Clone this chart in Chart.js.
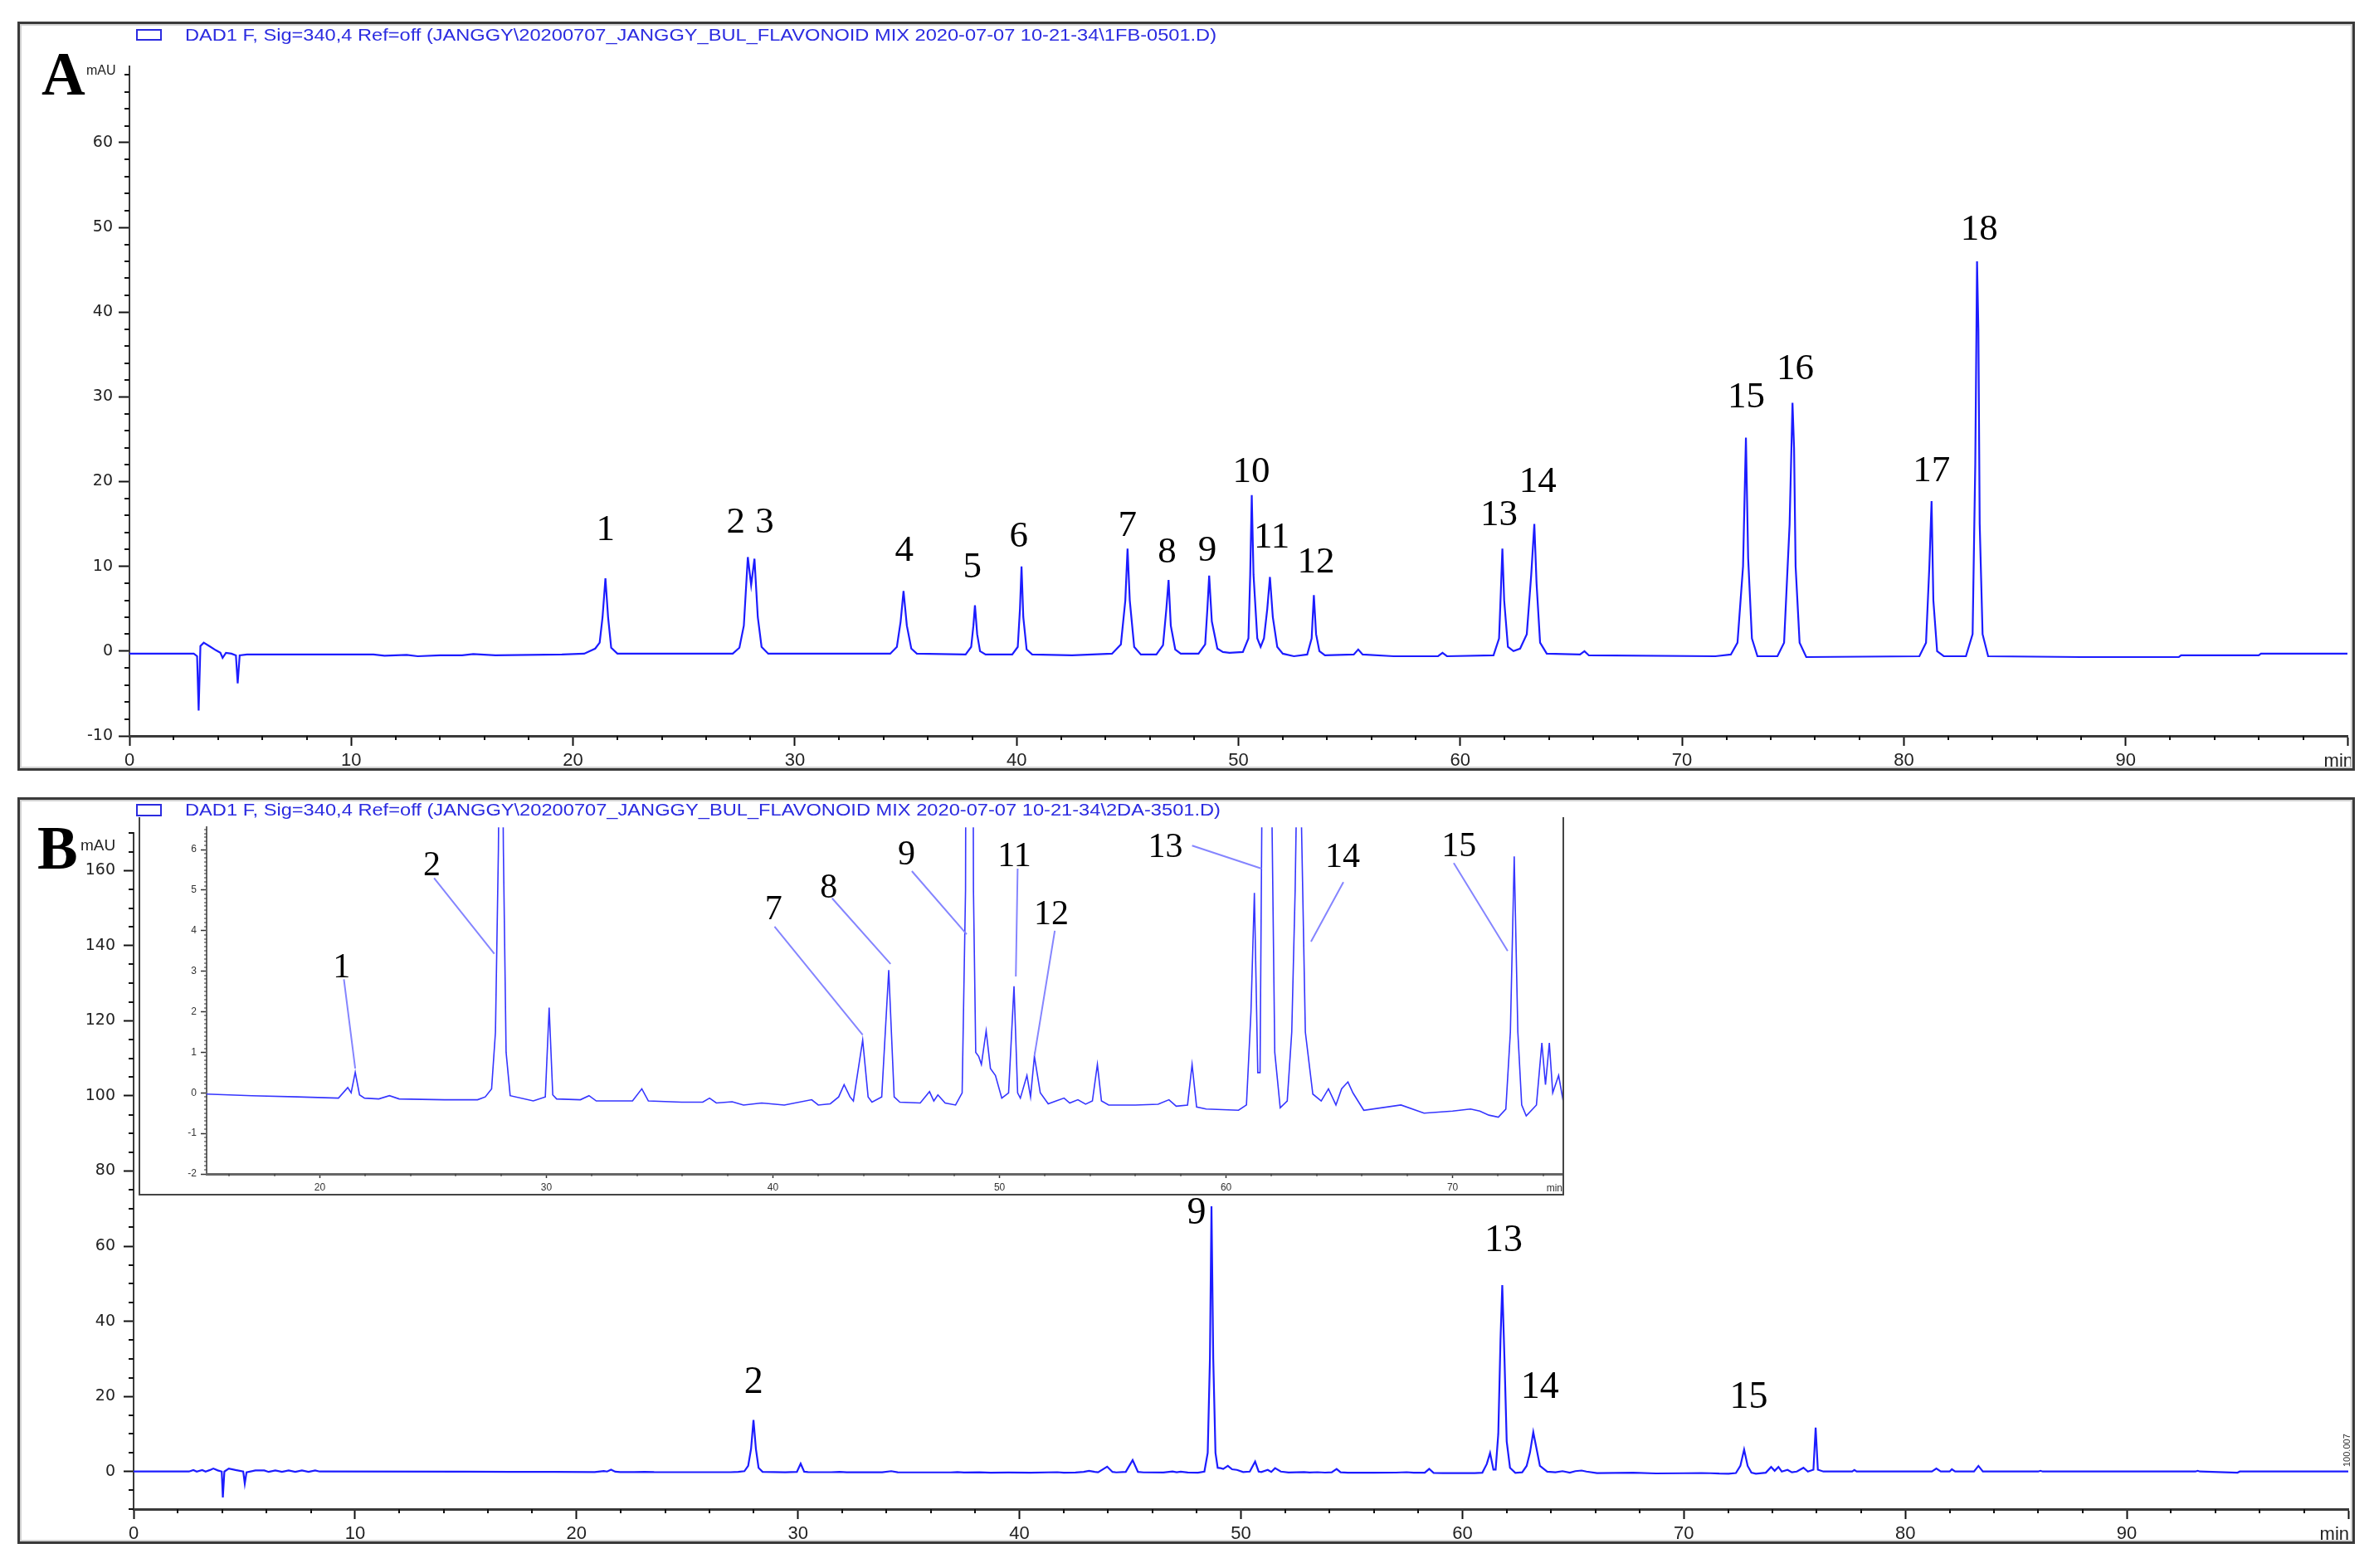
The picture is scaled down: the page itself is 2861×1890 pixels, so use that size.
<!DOCTYPE html>
<html><head><meta charset="utf-8">
<script src="https://cdn.jsdelivr.net/npm/chart.js@4.4.1/dist/chart.umd.min.js"></script>
<style>
html,body{margin:0;padding:0;background:#fff;overflow:hidden;}
#page{position:relative;width:2861px;height:1890px;background:#fff;overflow:hidden;}
canvas{position:absolute;display:block;}
.frame{position:absolute;border:3px solid #3a3a3a;box-shadow:inset 0 0 0 2px #d2d2d2;box-sizing:border-box;pointer-events:none;}
.legend{position:absolute;font-family:'Liberation Sans',Arial,sans-serif;font-size:20px;line-height:20px;color:#2b2be0;white-space:nowrap;transform-origin:0 50%;}
.legbox{position:absolute;border:2px solid #2b2be0;box-sizing:border-box;}
.plet{position:absolute;font-family:'Liberation Serif','Times New Roman',serif;font-weight:bold;font-size:73px;line-height:73px;color:#000;}
.mau{position:absolute;font-family:'Liberation Sans',Arial,sans-serif;color:#222;white-space:nowrap;}
#insetFrame{position:absolute;left:167px;top:985px;width:1718px;height:456px;box-sizing:border-box;border-left:2px solid #444;border-right:2px solid #444;border-bottom:2px solid #444;background:#fff;}
#rt{position:absolute;left:2823px;top:1768px;font-family:'Liberation Sans',Arial,sans-serif;font-size:11px;line-height:11px;color:#333;transform-origin:0 0;transform:rotate(-90deg);white-space:nowrap;}
</style></head>
<body>
<div id="page">
  <canvas id="cA"></canvas>
  <canvas id="cB"></canvas>
  <div id="insetFrame"></div>
  <canvas id="cI"></canvas>
  <div class="frame" style="left:21px;top:26px;width:2817px;height:903px;"></div>
  <div class="frame" style="left:21px;top:961px;width:2817px;height:900px;"></div>
  <div class="legbox" style="left:164px;top:35px;width:31px;height:14px;"></div>
  <div class="legend" id="legA" style="left:223px;top:32px;"></div>
  <div class="legbox" style="left:164px;top:969px;width:31px;height:15px;"></div>
  <div class="legend" id="legB" style="left:223px;top:966px;"></div>
  <div class="plet" style="left:50px;top:53px;">A</div>
  <div class="mau" style="left:104px;top:77px;font-size:16px;line-height:16px;">mAU</div>
  <div class="plet" style="left:45px;top:986px;">B</div>
  <div class="mau" style="left:97px;top:1009px;font-size:19px;line-height:19px;">mAU</div>
  <div id="rt">100.007</div>
</div>
<script>
// ================= DATA =================
const legendTextA = 'DAD1 F, Sig=340,4 Ref=off (JANGGY\\20200707_JANGGY_BUL_FLAVONOID MIX 2020-07-07 10-21-34\\1FB-0501.D)';
const legendTextB = 'DAD1 F, Sig=340,4 Ref=off (JANGGY\\20200707_JANGGY_BUL_FLAVONOID MIX 2020-07-07 10-21-34\\2DA-3501.D)';

// tick label values
const xTicksA = [0,10,20,30,40,50,60,70,80,90,100];
const yTicksA = [-10,0,10,20,30,40,50,60];
const xTicksB = [0,10,20,30,40,50,60,70,80,90,100];
const yTicksB = [0,20,40,60,80,100,120,140,160];
const xTicksInset = [20,30,40,50,60,70];
const yTicksInset = [-2,-1,0,1,2,3,4,5,6];

// chromatogram A: [retention time (min), absorbance (mAU)]
const traceA = [
 [0,-0.3],[2.9,-0.3],[3.05,-0.6],[3.12,-7.0],[3.2,0.6],[3.35,1.0],[3.6,0.6],[3.9,0.1],[4.1,-0.2],[4.2,-0.8],[4.35,-0.2],[4.6,-0.3],[4.8,-0.5],[4.88,-3.8],[4.97,-0.5],[5.3,-0.4],
 [11.0,-0.4],[11.5,-0.55],[12.5,-0.45],[13.0,-0.6],[14.0,-0.5],[15.0,-0.5],[15.5,-0.35],[16.5,-0.5],[19.5,-0.4],
 [20.5,-0.3],[21.0,0.3],[21.2,1.0],[21.33,4.0],[21.46,8.6],[21.58,4.0],[21.72,0.4],[22.0,-0.3],
 [27.2,-0.3],[27.5,0.4],[27.7,3.0],[27.88,11.1],[28.03,7.8],[28.18,10.9],[28.33,4.0],[28.5,0.5],[28.8,-0.3],
 [34.3,-0.3],[34.6,0.5],[34.77,3.5],[34.9,7.1],[35.05,3.0],[35.25,0.3],[35.5,-0.3],
 [37.7,-0.4],[37.95,0.5],[38.05,3.0],[38.12,5.4],[38.22,2.0],[38.35,0.0],[38.6,-0.4],
 [39.8,-0.4],[40.05,0.5],[40.15,5.0],[40.22,10.0],[40.3,4.0],[40.45,0.2],[40.7,-0.4],
 [42.5,-0.5],
 [44.3,-0.3],[44.7,0.8],[44.9,6.0],[45.0,12.1],[45.1,6.0],[45.3,0.5],[45.6,-0.4],
 [46.3,-0.4],[46.6,0.7],[46.75,5.0],[46.85,8.4],[46.95,3.0],[47.15,0.2],[47.4,-0.3],
 [48.2,-0.3],[48.5,0.8],[48.6,5.0],[48.68,8.9],[48.8,3.5],[49.05,0.3],[49.3,-0.1],[49.6,-0.2],
 [50.2,-0.1],[50.45,1.5],[50.53,9.0],[50.6,18.4],[50.68,9.0],[50.85,1.5],[51.0,0.5],
 [51.15,1.5],[51.3,5.0],[51.42,8.75],[51.55,4.0],[51.75,0.5],[52.0,-0.3],[52.5,-0.6],
 [53.1,-0.4],[53.3,1.5],[53.4,6.6],[53.5,2.0],[53.65,0.0],[53.9,-0.5],
 [55.2,-0.4],[55.4,0.2],[55.6,-0.4],[57.0,-0.6],[59.0,-0.6],[59.2,-0.2],[59.4,-0.6],
 [61.5,-0.5],[61.75,1.5],[61.83,7.0],[61.9,12.1],[61.98,6.0],[62.15,0.5],[62.4,0.0],
 [62.7,0.3],[63.0,2.0],[63.2,9.0],[63.34,15.0],[63.44,8.0],[63.6,1.0],[63.9,-0.3],
 [65.4,-0.4],[65.6,0.0],[65.8,-0.5],[71.5,-0.6],
 [72.2,-0.4],[72.5,1.0],[72.75,10.0],[72.88,25.2],[72.98,11.0],[73.15,1.5],[73.4,-0.6],
 [74.3,-0.6],[74.6,1.0],[74.85,15.0],[74.98,29.3],[75.05,24.0],[75.12,10.0],[75.3,1.0],[75.6,-0.7],
 [80.7,-0.6],[81.0,1.0],[81.15,10.0],[81.25,17.7],[81.33,6.0],[81.5,0.0],[81.8,-0.6],
 [82.8,-0.6],[83.1,2.0],[83.22,22.0],[83.3,46.0],[83.36,38.0],[83.42,15.0],[83.55,2.0],[83.8,-0.6],
 [88.0,-0.7],[92.4,-0.7],[92.5,-0.5],[96.0,-0.5],[96.1,-0.3],[100.0,-0.3]
];

// chromatogram B: [retention time (min), absorbance (mAU)]
const traceB = [
 [0,0.0],[2.5,0.0],[2.7,0.4],[2.85,0.0],[3.1,0.4],[3.25,0.0],[3.45,0.4],[3.6,0.8],[3.8,0.3],[3.98,0.0],[4.03,-6.9],[4.1,0.0],[4.3,0.8],[4.6,0.4],[4.95,0.0],[5.02,-3.2],[5.1,-0.2],
 [5.5,0.3],[5.9,0.3],[6.1,-0.1],[6.4,0.3],[6.7,-0.1],[7.0,0.3],[7.3,-0.1],[7.6,0.3],[7.9,-0.1],[8.2,0.3],[8.4,0.0],
 [15.0,-0.03],[17.0,-0.07],[19.0,-0.1],[20.82,-0.13],[21.23,0.13],[21.38,0.0],[21.56,0.51],[21.75,-0.05],[21.97,-0.13],
 [22.6,-0.15],[23.07,-0.07],[23.5,-0.15],[25.5,-0.17],[26.96,-0.17],[27.3,-0.1],[27.58,0.1],
 [27.75,1.5],[27.88,6.0],[27.99,13.7],[28.1,6.0],[28.22,1.0],[28.4,-0.07],
 [29.42,-0.2],[29.95,-0.1],[30.12,2.1],[30.28,-0.05],[30.45,-0.15],[31.5,-0.17],[31.88,-0.07],[32.2,-0.2],
 [33.8,-0.2],[34.21,0.1],[34.5,-0.2],[35.97,-0.23],[36.9,-0.23],[37.2,-0.13],[37.5,-0.25],[38.2,-0.22],
 [38.7,-0.3],[39.5,-0.25],[40.5,-0.3],[41.71,-0.17],[42.0,-0.3],[42.53,-0.27],[42.9,-0.1],[43.14,0.2],
 [43.4,-0.1],[43.55,-0.2],[43.96,1.3],[44.2,-0.1],[44.37,-0.23],[44.8,-0.1],[45.11,3.03],[45.35,-0.1],
 [45.6,-0.23],[46.5,-0.25],[46.91,0.03],[47.1,-0.2],[47.28,-0.05],[47.6,-0.25],[48.06,-0.3],
 [48.35,0.0],[48.5,5.0],[48.6,30.0],[48.67,70.6],[48.75,30.0],[48.85,5.0],[48.95,1.0],[49.08,0.9],
 [49.2,0.7],[49.41,1.53],[49.6,0.6],[49.82,0.43],[50.1,-0.13],[50.4,0.0],[50.64,2.63],[50.8,0.0],
 [50.92,-0.13],[51.21,0.43],[51.37,-0.1],[51.54,0.9],[51.8,0.0],[52.15,-0.27],[52.5,-0.2],
 [52.85,-0.13],[53.1,-0.25],[53.46,-0.17],[53.8,-0.28],[54.1,-0.2],[54.32,0.7],[54.5,-0.2],
 [54.82,-0.3],[56.0,-0.3],[57.0,-0.28],[57.48,-0.17],[57.8,-0.33],[58.3,-0.3],[58.5,0.7],[58.7,-0.35],
 [59.12,-0.4],[60.55,-0.43],[60.9,-0.3],[61.1,2.0],[61.25,4.93],[61.4,0.5],[61.5,0.5],
 [61.62,10.0],[61.72,35.0],[61.8,49.6],[61.9,30.0],[62.0,8.0],[62.15,1.0],[62.39,-0.37],
 [62.7,-0.2],[62.9,1.5],[63.05,5.0],[63.2,10.5],[63.35,6.0],[63.5,1.5],[63.83,-0.03],
 [64.2,-0.2],[64.52,0.1],[64.85,-0.3],[65.1,0.1],[65.38,0.27],[65.6,0.0],[66.08,-0.43],
 [67.72,-0.3],[68.74,-0.5],[70.0,-0.45],[70.79,-0.4],[71.2,-0.45],[71.6,-0.55],[72.02,-0.6],
 [72.35,-0.4],[72.55,1.5],[72.72,5.83],[72.88,1.5],[73.05,-0.3],[73.25,-0.57],[73.7,-0.3],
 [73.94,1.23],[74.1,0.2],[74.27,1.23],[74.42,0.0],[74.68,0.43],[74.88,-0.2],[75.1,0.0],
 [75.4,1.0],[75.6,0.0],[75.85,0.5],[75.95,11.7],[76.05,0.5],[76.3,0.0],[77.6,0.0],[77.7,0.4],[77.8,0.0],
 [81.2,0.0],[81.4,0.8],[81.6,0.0],[82.0,0.0],[82.1,0.6],[82.25,0.0],[83.1,0.0],[83.3,1.5],[83.5,0.0],
 [86.0,0.0],[86.1,0.2],[86.2,0.0],[93.1,0.0],[93.2,0.2],[93.3,0.0],[95.0,-0.3],[95.1,0.0],[100.0,0.0]
];

// peak labels, panel A
const peakNamesA = ['1','2','3','4','5','6','7','8','9','10','11','12','13','14','15','16','17','18'];
const peakLabelTimeA = [21.46,27.34,28.64,34.93,38.0,40.1,45.0,46.78,48.6,50.58,51.5,53.5,61.75,63.5,72.9,75.1,81.25,83.4];
const peakLabelLevelA = [14.6,15.4,15.4,12.1,10.2,13.75,15.0,11.9,12.1,21.4,13.7,10.7,16.3,20.2,30.2,33.5,21.5,50.0];

// peak labels, panel B (main)
const peakNamesB = ['2','9','13','14','15'];
const peakLabelTimeB = [28.0,48.0,61.86,63.5,72.93];
const peakLabelLevelB = [24.2,69.4,62.1,23.0,20.2];

// peak labels + leader lines, panel B inset
const peakNamesInset = ['1','2','7','8','9','11','12','13','14','15'];
const peakLabelTimeInset = [20.96,24.94,40.03,42.46,45.9,50.66,52.29,57.32,65.14,70.28];
const peakLabelLevelInset = [3.14,5.65,4.57,5.1,5.92,5.88,4.45,6.1,5.85,6.12];
const leaderFromTime  = [21.06,25.04,40.07,42.61,46.13,50.8,52.44,58.5,65.18,70.05];
const leaderFromLevel = [2.8,5.3,4.1,4.8,5.47,5.53,4.0,6.1,5.2,5.67];
const leaderToTime    = [21.56,27.7,43.96,45.19,48.55,50.72,51.54,61.57,63.75,72.43];
const leaderToLevel   = [0.6,3.43,1.43,3.18,3.91,2.87,0.91,5.53,3.73,3.5];

// ================= RENDERING =================
function minorList(from, to, step, skipEvery) {
  const out = [];
  const n = Math.round((to - from) / step);
  for (let k = 0; k <= n; k++) {
    const v = +(from + k * step).toFixed(4);
    const r = Math.abs(v / skipEvery - Math.round(v / skipEvery));
    if (r > 1e-6) out.push(v);
  }
  return out;
}

const axisDeco = {
  id: 'axisDeco',
  afterDraw(chart, args, o) {
    const ctx = chart.ctx, xs = chart.scales.x, ys = chart.scales.y, a = chart.chartArea;
    ctx.save();
    ctx.strokeStyle = o.tickColor; ctx.lineWidth = o.tickWidth;
    ctx.beginPath();
    o.minorX.forEach(v => { const p = Math.round(xs.getPixelForValue(v)); ctx.moveTo(p, a.bottom); ctx.lineTo(p, a.bottom + o.minorXLen); });
    o.minorY.forEach(v => { const p = Math.round(ys.getPixelForValue(v)); ctx.moveTo(a.left, p); ctx.lineTo(a.left - o.minorYLen, p); });
    ctx.stroke();
    ctx.fillStyle = o.tickLabelColor; ctx.font = o.minFont;
    ctx.textAlign = 'right'; ctx.textBaseline = 'alphabetic';
    ctx.fillText('min', a.right + o.minDx, a.bottom + o.minDy);
    if (o.leaders) {
      ctx.strokeStyle = o.leaderColor; ctx.lineWidth = o.leaderWidth;
      ctx.beginPath();
      o.leaders.fromT.forEach((t, i) => {
        ctx.moveTo(xs.getPixelForValue(t), ys.getPixelForValue(o.leaders.fromV[i]));
        ctx.lineTo(xs.getPixelForValue(o.leaders.toT[i]), ys.getPixelForValue(o.leaders.toV[i]));
      });
      ctx.stroke();
    }
    ctx.fillStyle = '#000';
    ctx.font = o.labelSize + "px 'Liberation Serif','Times New Roman',serif";
    ctx.textAlign = 'center'; ctx.textBaseline = 'alphabetic';
    o.names.forEach((n, i) => {
      const x = xs.getPixelForValue(o.lx[i]);
      const y = ys.getPixelForValue(o.ly[i]) + o.labelSize * 0.33;
      ctx.fillText(n, x, y);
    });
    ctx.restore();
  }
};

function buildChart(id, box, area, spec) {
  const cv = document.getElementById(id);
  cv.style.left = box.left + 'px'; cv.style.top = box.top + 'px';
  cv.width = box.width; cv.height = box.height;
  cv.style.width = box.width + 'px'; cv.style.height = box.height + 'px';
  const padTop = area.top - box.top;
  const padRight = box.left + box.width - area.right;
  const yW = area.left - box.left;
  const xH = box.top + box.height - area.bottom;
  return new Chart(cv, {
    type: 'line',
    data: { datasets: [{
      data: spec.trace.map(p => ({ x: p[0], y: p[1] })),
      borderColor: spec.lineColor, borderWidth: spec.lineWidth,
      pointRadius: 0, tension: 0, fill: false
    }]},
    options: {
      responsive: false, animation: false, devicePixelRatio: 1, events: [],
      layout: { padding: { top: padTop, right: padRight, left: 0, bottom: 0 } },
      plugins: { legend: { display: false }, tooltip: { enabled: false }, axisDeco: spec.deco },
      scales: {
        x: {
          type: 'linear', min: spec.xMin, max: spec.xMax,
          afterBuildTicks: s => { s.ticks = spec.xTicks.map(v => ({ value: v })); },
          afterFit: s => { s.height = xH; },
          ticks: { callback: v => (spec.xTicks.indexOf(v) >= 0 && v < spec.xMax - 1e-9) ? String(v) : '',
                   font: spec.xFont, color: spec.tickLabelColor, padding: spec.xPad, maxRotation: 0, autoSkip: false },
          grid: { drawOnChartArea: false, drawTicks: true, tickLength: spec.xMajorLen, tickWidth: spec.tickWidth, tickColor: spec.tickColor },
          border: { display: true, color: spec.axisColor, width: spec.xAxisWidth }
        },
        y: {
          type: 'linear', min: spec.yMin, max: spec.yMax,
          afterBuildTicks: s => { s.ticks = spec.yTicks.map(v => ({ value: v })); },
          afterFit: s => { s.width = yW; },
          ticks: { callback: v => String(v), font: spec.yFont, color: spec.tickLabelColor, padding: spec.yPad, autoSkip: false },
          grid: { drawOnChartArea: false, drawTicks: true, tickLength: spec.yMajorLen, tickWidth: spec.tickWidth, tickColor: spec.tickColor },
          border: { display: true, color: spec.axisColor, width: spec.yAxisWidth }
        }
      }
    },
    plugins: [axisDeco]
  });
}

const sansNarrow = "'Liberation Sans Narrow','Arial Narrow','Liberation Sans',Arial,sans-serif";

buildChart('cA', { left: 24, top: 29, width: 2811, height: 898 }, { left: 156, right: 2829, top: 80, bottom: 887 }, {
  trace: traceA, lineColor: '#1c1cff', lineWidth: 2.2,
  xMin: 0, xMax: 100, yMin: -10, yMax: 69, xTicks: xTicksA, yTicks: yTicksA,
  xFont: { family: sansNarrow, size: 22 }, yFont: { family: "'DejaVu Sans',sans-serif", size: 19 },
  tickLabelColor: '#222', xPad: 5, yPad: 7, xMajorLen: 12, yMajorLen: 13,
  tickWidth: 2, tickColor: '#111', axisColor: '#3a3a3a', xAxisWidth: 3, yAxisWidth: 2,
  deco: { minorX: minorList(0, 100, 2, 10), minorY: minorList(-10, 68, 2, 10), minorXLen: 5, minorYLen: 6,
          tickColor: '#111', tickWidth: 2, tickLabelColor: '#222', minFont: "22px " + sansNarrow, minDx: 7, minDy: 37,
          names: peakNamesA, lx: peakLabelTimeA, ly: peakLabelLevelA, labelSize: 45 }
});

buildChart('cB', { left: 24, top: 964, width: 2811, height: 894 }, { left: 161, right: 2833, top: 1004, bottom: 1819 }, {
  trace: traceB, lineColor: '#1c1cff', lineWidth: 2.2,
  xMin: 0, xMax: 100, yMin: -10, yMax: 170, xTicks: xTicksB, yTicks: yTicksB,
  xFont: { family: sansNarrow, size: 22 }, yFont: { family: "'DejaVu Sans',sans-serif", size: 19 },
  tickLabelColor: '#222', xPad: 5, yPad: 10, xMajorLen: 12, yMajorLen: 12,
  tickWidth: 2, tickColor: '#111', axisColor: '#3a3a3a', xAxisWidth: 3, yAxisWidth: 2,
  deco: { minorX: minorList(0, 100, 2, 10), minorY: minorList(-10, 170, 5, 20), minorXLen: 5, minorYLen: 6,
          tickColor: '#111', tickWidth: 2, tickLabelColor: '#222', minFont: "22px " + sansNarrow, minDx: 1, minDy: 37,
          names: peakNamesB, lx: peakLabelTimeB, ly: peakLabelLevelB, labelSize: 46 }
});

buildChart('cI', { left: 170, top: 985, width: 1713, height: 454 }, { left: 249, right: 1883, top: 987.5, bottom: 1415 }, {
  trace: traceB, lineColor: '#3535ff', lineWidth: 1.6,
  xMin: 15, xMax: 74.85, yMin: -2, yMax: 6.55, xTicks: xTicksInset, yTicks: yTicksInset,
  xFont: { family: sansNarrow, size: 12 }, yFont: { family: "'Liberation Sans',Arial,sans-serif", size: 12 },
  tickLabelColor: '#333', xPad: 4, yPad: 5, xMajorLen: 5, yMajorLen: 7,
  tickWidth: 1.5, tickColor: '#333', axisColor: '#666', xAxisWidth: 3, yAxisWidth: 2,
  deco: { minorX: minorList(16, 74, 2, 10), minorY: minorList(-2, 6.5, 0.1, 1), minorXLen: 3, minorYLen: 3,
          tickColor: '#333', tickWidth: 1, tickLabelColor: '#333', minFont: "12px " + sansNarrow, minDx: 0, minDy: 21,
          names: peakNamesInset, lx: peakLabelTimeInset, ly: peakLabelLevelInset, labelSize: 42,
          leaders: { fromT: leaderFromTime, fromV: leaderFromLevel, toT: leaderToTime, toV: leaderToLevel },
          leaderColor: '#8585ff', leaderWidth: 2 }
});

function fitText(el, text, w) {
  el.textContent = text;
  el.style.transform = 'none';
  const r = el.getBoundingClientRect().width;
  el.style.transform = 'scaleX(' + (w / r) + ')';
}
fitText(document.getElementById('legA'), legendTextA, 1243);
fitText(document.getElementById('legB'), legendTextB, 1248);
</script>
</body></html>
